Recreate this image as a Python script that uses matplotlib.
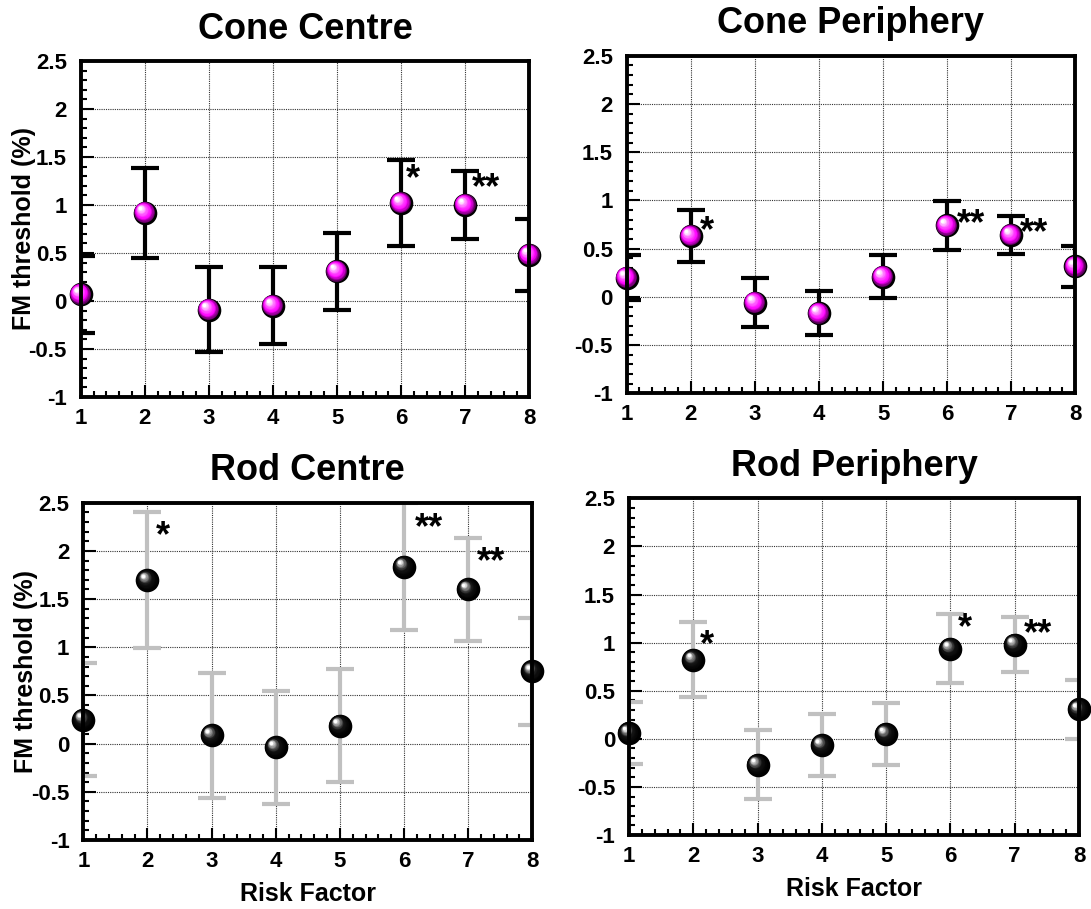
import matplotlib
matplotlib.use("Agg")
import matplotlib.pyplot as plt
import matplotlib.transforms as mtransforms
import numpy as np
from matplotlib.ticker import MultipleLocator, FormatStrFormatter

plt.rcParams['font.family'] = ['Liberation Sans', 'DejaVu Sans']
plt.rcParams['font.weight'] = 'bold'

# datos
risk = [1, 2, 3, 4, 5, 6, 7, 8]

cone_centre = [0.07, 0.92, -0.09, -0.05, 0.31, 1.02, 1.00, 0.48]
cone_centre_err = [0.40, 0.47, 0.44, 0.40, 0.40, 0.45, 0.35, 0.375]

cone_periph = [0.20, 0.63, -0.06, -0.17, 0.21, 0.74, 0.64, 0.315]
cone_periph_err = [0.23, 0.27, 0.255, 0.227, 0.224, 0.258, 0.20, 0.217]

rod_centre = [0.25, 1.695, 0.087, -0.04, 0.187, 1.837, 1.60, 0.75]
rod_centre_err = [0.588, 0.705, 0.65, 0.584, 0.586, 0.66, 0.53, 0.558]

rod_periph = [0.06, 0.82, -0.27, -0.067, 0.05, 0.937, 0.98, 0.305]
rod_periph_err = [0.324, 0.39, 0.358, 0.32, 0.324, 0.36, 0.29, 0.31]

# asteriscos de significancia: (x, y, texto)
cone_centre_stars = [(6.18, 1.35, '*'), (7.33, 1.26, '**')]
cone_periph_stars = [(2.26, 0.76, '*'), (6.37, 0.84, '**'), (7.35, 0.745, '**')]
rod_centre_stars = [(2.24, 2.23, '*'), (6.39, 2.32, '**'), (7.35, 1.96, '**')]
rod_periph_stars = [(2.22, 1.06, '*'), (6.23, 1.23, '*'), (7.36, 1.17, '**')]

fig = plt.figure(figsize=(10.91, 9.09), dpi=100)


def blend(stops, t):
    ts = [s[0] for s in stops]
    cols = np.array([s[1] for s in stops])
    return tuple(np.interp(t, ts, cols[:, k]) for k in range(3))


def sphere(ax, xs, ys, stops, ms=17):
    # bola con brillo: capas de circulos desplazados hacia arriba-izquierda
    ax.plot(xs, ys, 'o', ms=ms, color='black', mew=0, clip_on=False, zorder=5)
    n = 16
    for i in range(n):
        t = i / (n - 1)
        size = ms * (0.88 - 0.74 * t)
        d = ms * 0.03 + ms * 0.17 * t
        tr = mtransforms.offset_copy(ax.transData, fig=fig, x=-d, y=d, units='points')
        ax.plot(xs, ys, 'o', ms=size, color=blend(stops, t), mew=0,
                transform=tr, clip_on=False, zorder=6 + i)


magenta = [(0.0, (0.35, 0.0, 0.35)), (0.3, (1.0, 0.0, 1.0)), (0.6, (1.0, 0.35, 1.0)), (1.0, (1.0, 1.0, 1.0))]
black = [(0.0, (0.0, 0.0, 0.0)), (0.45, (0.08, 0.08, 0.08)), (0.75, (0.5, 0.5, 0.5)), (1.0, (1.0, 1.0, 1.0))]


def panel(rect, title, vals, errs, stars, ecolor, stops, ylabel=False, xlabel=False):
    ax = fig.add_axes(rect)
    ax.errorbar(risk, vals, yerr=errs, fmt='none', ecolor=ecolor, elinewidth=3,
                capsize=10, capthick=3, zorder=3)
    sphere(ax, risk, vals, stops)
    ax.set_xlim(1, 8)
    ax.set_ylim(-1, 2.5)
    ax.xaxis.set_major_locator(MultipleLocator(1))
    ax.xaxis.set_minor_locator(MultipleLocator(0.2))
    ax.yaxis.set_major_locator(MultipleLocator(0.5))
    ax.yaxis.set_minor_locator(MultipleLocator(0.1))
    ax.yaxis.set_major_formatter(FormatStrFormatter('%g'))
    ax.grid(True, which='major', ls=(0, (1, 1)), color='#333333', lw=0.8, zorder=1)
    ax.tick_params(which='both', direction='in', top=False, right=False, width=1.5,
                   labelsize=16)
    ax.tick_params(which='major', length=9)
    ax.tick_params(which='minor', length=4.3)
    ax.tick_params(axis='x', pad=8)
    ax.tick_params(axis='y', pad=10)
    for s in ax.spines.values():
        s.set_linewidth(2.8)
        s.set_zorder(30)
    ax.set_title(title, fontsize=26, fontweight='bold', pad=16)
    for x, y, s in stars:
        tr = mtransforms.offset_copy(ax.transData, fig=fig, x=0, y=-6, units='points')
        ax.text(x, y, s, fontsize=26, fontweight='bold', ha='center', va='center',
                transform=tr, zorder=40)
    if ylabel:
        ax.set_ylabel('FM threshold (%)', fontsize=18, fontweight='bold')
        ax.yaxis.set_label_coords(-0.10, 0.5)
    if xlabel:
        ax.set_xlabel('Risk Factor', fontsize=18, fontweight='bold')
        ax.xaxis.set_label_coords(0.5, -0.125)
    return ax


panel([0.0740, 0.5633, 0.4112, 0.3696], 'Cone Centre', cone_centre, cone_centre_err,
      cone_centre_stars, 'black', magenta, ylabel=True)
panel([0.5744, 0.5673, 0.4112, 0.3714], 'Cone Periphery', cone_periph, cone_periph_err,
      cone_periph_stars, 'black', magenta)
panel([0.0764, 0.0759, 0.4115, 0.3711], 'Rod Centre', rod_centre, rod_centre_err,
      rod_centre_stars, '#c0c0c0', black, ylabel=True, xlabel=True)
panel([0.5765, 0.0814, 0.4125, 0.3704], 'Rod Periphery', rod_periph, rod_periph_err,
      rod_periph_stars, '#c0c0c0', black, xlabel=True)

fig.savefig('out.png', dpi=100)
